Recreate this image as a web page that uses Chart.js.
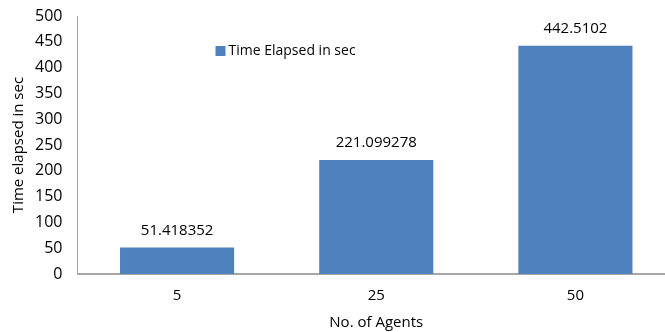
<!DOCTYPE html>
<html>
<head>
<meta charset="utf-8">
<script src="https://cdn.jsdelivr.net/npm/chart.js@4/dist/chart.umd.min.js"></script>
<style>
  html, body { margin: 0; padding: 0; background: #fff; overflow: hidden; }
  #wrap { width: 665px; height: 332px; overflow: hidden; }
  canvas { display: block; }
</style>
</head>
<body>
<div id="wrap"><canvas id="c" width="675" height="332"></canvas></div>
<script>
// Run time of the simulation for each agent count
const agentCounts = ['5', '25', '50'];
const elapsedSeconds = [51.418352, 221.099278, 442.5102];
const seriesName = 'Time Elapsed in sec';
const yTickStep = 50;
const yMax = 500;

const FONT = '"Open Sans", "Liberation Sans", sans-serif';
const BAR_COLOR = '#4F81BD';
const AXIS_COLOR = '#A6A6A6';

// Writes each bar's value just above it
const valueLabels = {
  id: 'valueLabels',
  afterDatasetsDraw(chart) {
    const ctx = chart.ctx;
    const meta = chart.getDatasetMeta(0);
    ctx.save();
    ctx.font = '15px ' + FONT;
    ctx.fillStyle = '#000';
    ctx.textAlign = 'center';
    ctx.textBaseline = 'middle';
    meta.data.forEach((bar, i) => {
      ctx.fillText(String(chart.data.datasets[0].data[i]), bar.x, bar.y - 17);
    });
    ctx.restore();
  }
};

// Legend entry placed inside the plot area
const innerLegend = {
  id: 'innerLegend',
  afterDraw(chart) {
    const ctx = chart.ctx;
    const ds = chart.data.datasets[0];
    const x = chart.chartArea.left + 138;
    const y = chart.chartArea.top + 35;
    ctx.save();
    ctx.fillStyle = ds.backgroundColor;
    ctx.fillRect(x, y - 5, 10, 10);
    ctx.font = '14px ' + FONT;
    ctx.fillStyle = '#000';
    ctx.textAlign = 'left';
    ctx.textBaseline = 'middle';
    ctx.fillText(ds.label, x + 13, y);
    ctx.restore();
  }
};

new Chart(document.getElementById('c'), {
  type: 'bar',
  data: {
    labels: agentCounts,
    datasets: [{
      label: seriesName,
      data: elapsedSeconds,
      backgroundColor: BAR_COLOR,
      borderWidth: 0,
      categoryPercentage: 1,
      barPercentage: 0.573
    }]
  },
  options: {
    responsive: false,
    animation: false,
    devicePixelRatio: 1,
    layout: { padding: { top: 16, right: 0, bottom: 0, left: 0 } },
    plugins: {
      legend: { display: false },
      tooltip: { enabled: false }
    },
    scales: {
      x: {
        grid: { display: false, drawTicks: false },
        border: { display: true, color: AXIS_COLOR, width: 2 },
        ticks: { color: '#000', font: { family: FONT, size: 15 }, padding: 13 },
        title: {
          display: true,
          text: 'No. of Agents',
          color: '#000',
          font: { family: FONT, size: 15 },
          padding: { top: 0, bottom: 0 }
        },
        afterFit(scale) { scale.height = 58; }
      },
      y: {
        min: 0,
        max: yMax,
        grid: { display: false, drawTicks: false },
        border: { display: true, color: AXIS_COLOR, width: 1 },
        ticks: {
          stepSize: yTickStep,
          color: '#000',
          font: { family: FONT, size: 16 },
          padding: 15
        },
        title: {
          display: true,
          text: 'Time elapsed in sec',
          color: '#000',
          font: { family: FONT, size: 15 },
          padding: { top: 10, bottom: 0 }
        },
        afterFit(scale) {
          scale.width = 77.5;
          scale.paddingTop = 0;
          scale.paddingBottom = 0;
        }
      }
    }
  },
  plugins: [valueLabels, innerLegend]
});
</script>
</body>
</html>
